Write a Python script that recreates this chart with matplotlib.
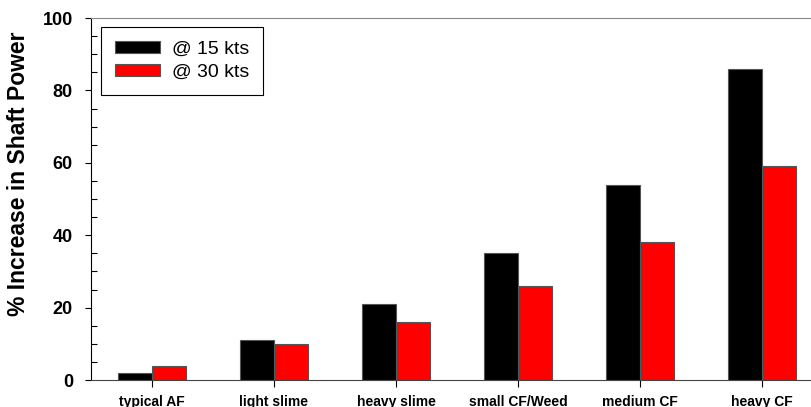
import matplotlib.pyplot as plt
import numpy as np
from matplotlib.ticker import MultipleLocator

categories = ['typical AF', 'light slime', 'heavy slime', 'small CF/Weed', 'medium CF', 'heavy CF']
kts15 = [2, 11, 21, 35, 54, 86]
kts30 = [4, 10, 16, 26, 38, 59]

plt.rcParams['font.family'] = ['Liberation Sans', 'DejaVu Sans']

fig = plt.figure(figsize=(8.11, 4.07), dpi=100)
# axes runs a little past the right edge, as in the cropped original
ax = fig.add_axes([0.1122, 0.0663, 0.9026, 0.8894])

x = np.arange(len(categories))
w = 0.28
ax.bar(x - w / 2, kts15, w, color='black', edgecolor='#555555', linewidth=0.8, label='@ 15 kts')
ax.bar(x + w / 2, kts30, w, color='#ff0000', edgecolor='#555555', linewidth=0.8, label='@ 30 kts')

ax.set_xlim(-0.5, len(categories) - 0.5)
ax.set_ylim(0, 100)
ax.yaxis.set_major_locator(MultipleLocator(20))
ax.yaxis.set_minor_locator(MultipleLocator(5))
ax.tick_params(axis='y', which='major', direction='out', length=4, width=0.8, labelsize=13, pad=9)
ax.tick_params(axis='y', which='minor', direction='in', length=4, width=0.8)
for t in ax.get_yticklabels():
    t.set_fontweight('bold')

ax.set_xticks(x)
ax.set_xticklabels(categories, fontsize=10, fontweight='bold',
                   family=['Liberation Sans Narrow', 'Liberation Sans'])
ax.tick_params(axis='x', direction='out', length=5, width=0.8, pad=6)

ax.spines['top'].set_color('#888888')
ax.spines['right'].set_visible(False)
ax.spines['left'].set_color('black')
ax.spines['bottom'].set_color('#444444')

ax.set_ylabel('% Increase in Shaft Power', fontsize=16.5, fontweight='bold')
ax.yaxis.set_label_coords(-0.084, 0.57)

leg = ax.legend(loc='upper left', bbox_to_anchor=(0.0137, 0.975), borderaxespad=0,
                fontsize=14, handlelength=2.35, handleheight=0.6, fancybox=False,
                framealpha=1, edgecolor='black', borderpad=0.7, labelspacing=0.32,
                handletextpad=0.6)
leg.get_frame().set_linewidth(0.8)

fig.savefig('out.png', dpi=100)
